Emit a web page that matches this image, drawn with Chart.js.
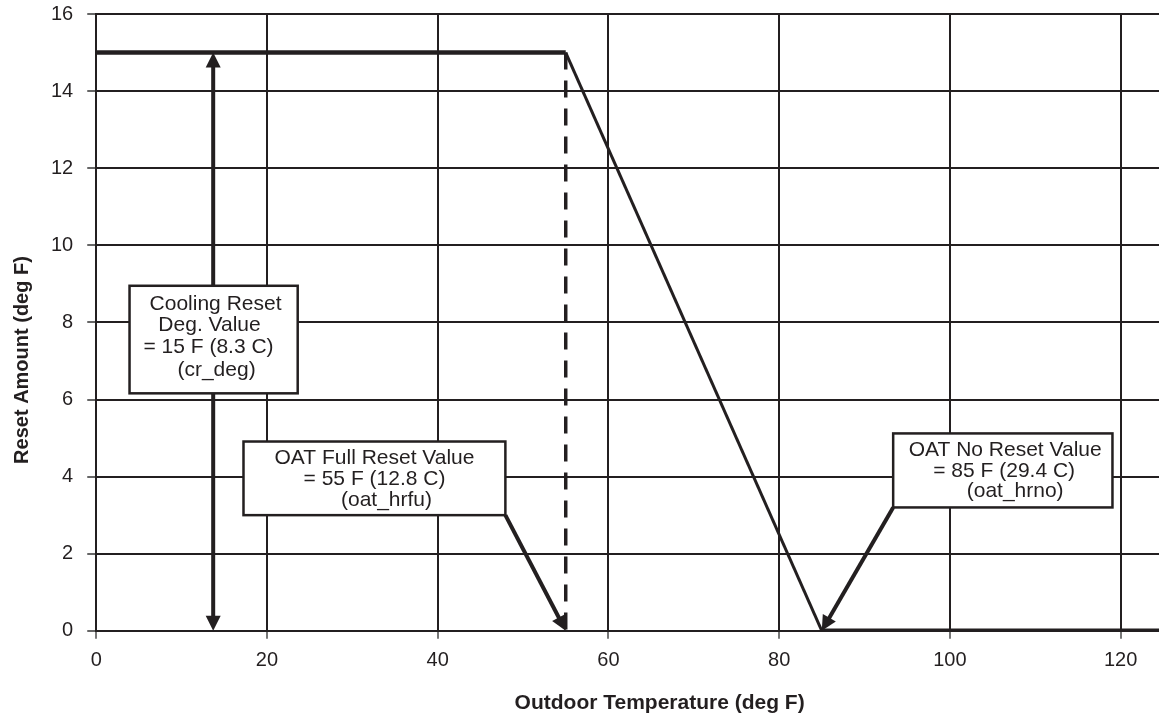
<!DOCTYPE html>
<html>
<head>
<meta charset="utf-8">
<title>Cooling Reset vs Outdoor Temperature</title>
<script src="https://cdn.jsdelivr.net/npm/chart.js@4"></script>
<style>
  html, body { margin: 0; padding: 0; background: #fff; overflow: hidden; }
  .reset-chart-wrapper { position: relative; width: 1223px; height: 716px; }
</style>
</head>
<body>
<div class="reset-chart-wrapper">
  <canvas id="resetChart"></canvas>
</div>
<script>
// reset schedule: full reset below oat_hrfu, none above oat_hrno
const crDeg = 15;
const oatFullReset = 55;
const oatNoReset = 85;
const resetTemps = [0, oatFullReset, oatNoReset, 132];
const resetAmounts = [crDeg, crDeg, 0, 0];
const fullResetMarkerX = [oatFullReset, oatFullReset];
const fullResetMarkerY = [crDeg, 0];
const crArrowX = 13.7;

const xTicks = [0, 20, 40, 60, 80, 100, 120];
const yTicks = [0, 2, 4, 6, 8, 10, 12, 14, 16];

const INK = "#231f20";

// callout boxes (data units for the box, px offsets for each text line)
const callouts = [
  {
    box: [3.9, 8.95, 23.6, 6.16],
    lines: [
      ["Cooling Reset", 86, 18],
      ["Deg. Value", 80, 39],
      ["= 15 F (8.3 C)", 79, 61],
      ["(cr_deg)", 87, 84],
    ],
  },
  {
    box: [17.25, 4.91, 47.93, 3.0],
    lines: [
      ["OAT Full Reset Value", 131, 17],
      ["= 55 F (12.8 C)", 131, 38],
      ["(oat_hrfu)", 143, 59],
    ],
  },
  {
    box: [93.36, 5.12, 119.05, 3.2],
    lines: [
      ["OAT No Reset Value", 112, 17],
      ["= 85 F (29.4 C)", 111, 38],
      ["(oat_hrno)", 122, 58],
    ],
  },
];

function arrowHead(ctx, fromX, fromY, tipX, tipY, len, halfW) {
  const ang = Math.atan2(tipY - fromY, tipX - fromX);
  ctx.beginPath();
  ctx.moveTo(tipX, tipY);
  ctx.lineTo(tipX - len * Math.cos(ang) + halfW * Math.sin(ang),
             tipY - len * Math.sin(ang) - halfW * Math.cos(ang));
  ctx.lineTo(tipX - len * Math.cos(ang) - halfW * Math.sin(ang),
             tipY - len * Math.sin(ang) + halfW * Math.cos(ang));
  ctx.closePath();
  ctx.fill();
}

function arrowLine(ctx, x1, y1, x2, y2, headAtStart) {
  const len = 15, halfW = 7.5;
  const ang = Math.atan2(y2 - y1, x2 - x1);
  let sx = x1, sy = y1;
  if (headAtStart) {
    sx = x1 + (len - 2) * Math.cos(ang);
    sy = y1 + (len - 2) * Math.sin(ang);
  }
  const ex = x2 - (len - 2) * Math.cos(ang);
  const ey = y2 - (len - 2) * Math.sin(ang);
  ctx.beginPath();
  ctx.moveTo(sx, sy);
  ctx.lineTo(ex, ey);
  ctx.stroke();
  arrowHead(ctx, x1, y1, x2, y2, len, halfW);
  if (headAtStart) arrowHead(ctx, x2, y2, x1, y1, len, halfW);
}

const calloutPlugin = {
  id: "callouts",
  afterDatasetsDraw(chart) {
    const { ctx, scales: { x, y } } = chart;
    ctx.save();
    ctx.strokeStyle = INK;
    ctx.fillStyle = INK;
    ctx.lineWidth = 4;

    // cr_deg span arrow
    arrowLine(ctx, x.getPixelForValue(crArrowX), y.getPixelForValue(crDeg),
      x.getPixelForValue(crArrowX), y.getPixelForValue(0), true);

    // pointers from the boxes down to the reset temperatures
    const b2 = callouts[1].box, b3 = callouts[2].box;
    arrowLine(ctx, x.getPixelForValue(b2[2]), y.getPixelForValue(b2[3]),
      x.getPixelForValue(oatFullReset), y.getPixelForValue(0), false);
    arrowLine(ctx, x.getPixelForValue(b3[0]), y.getPixelForValue(b3[3]),
      x.getPixelForValue(oatNoReset), y.getPixelForValue(0), false);

    // boxes
    ctx.font = '21px "Liberation Sans", Arial, sans-serif';
    ctx.textAlign = "center";
    ctx.textBaseline = "middle";
    callouts.forEach((c) => {
      const left = x.getPixelForValue(c.box[0]);
      const top = y.getPixelForValue(c.box[1]);
      const right = x.getPixelForValue(c.box[2]);
      const bottom = y.getPixelForValue(c.box[3]);
      ctx.fillStyle = "#fff";
      ctx.fillRect(left, top, right - left, bottom - top);
      ctx.lineWidth = 2.5;
      ctx.strokeStyle = INK;
      ctx.strokeRect(left, top, right - left, bottom - top);
      ctx.fillStyle = INK;
      c.lines.forEach(([text, dx, dy]) => ctx.fillText(text, left + dx, top + dy));
    });

    ctx.restore();
  },
  afterDraw(chart) {
    // y axis title, drawn by hand so it can sit lower than the scale centre
    const { ctx } = chart;
    ctx.save();
    ctx.translate(22, 360);
    ctx.rotate(-Math.PI / 2);
    ctx.font = 'bold 20px "Liberation Sans", Arial, sans-serif';
    ctx.fillStyle = INK;
    ctx.textAlign = "center";
    ctx.textBaseline = "middle";
    ctx.fillText("Reset Amount (deg F)", 0, 0);
    ctx.restore();
  },
};

Chart.defaults.font.family = '"Liberation Sans", Arial, sans-serif';
Chart.defaults.color = INK;

new Chart(document.getElementById("resetChart").getContext("2d"), {
  type: "line",
  data: {
    datasets: [
      {
        label: "Reset",
        data: resetTemps.map((t, i) => ({ x: t, y: resetAmounts[i] })),
        borderColor: INK,
        borderWidth: 4.5,
        pointRadius: 0,
        tension: 0,
        segment: {
          borderWidth: (ctx) => (ctx.p0.parsed.y !== ctx.p1.parsed.y ? 3 : 4.5),
        },
      },
      {
        label: "Full reset",
        data: fullResetMarkerX.map((t, i) => ({ x: t, y: fullResetMarkerY[i] })),
        borderColor: INK,
        borderWidth: 3.5,
        borderDash: [17, 11],
        pointRadius: 0,
      },
    ],
  },
  options: {
    responsive: true,
    maintainAspectRatio: false,
    animation: false,
    layout: { padding: { left: 37, top: 14, right: 0, bottom: 0 } },
    plugins: {
      legend: { display: false },
      tooltip: { enabled: false },
    },
    scales: {
      x: {
        type: "linear",
        min: 0,
        max: 132,
        afterBuildTicks: (scale) => { scale.ticks = xTicks.map((v) => ({ value: v })); },
        grid: { color: INK, lineWidth: 2, tickLength: 8, tickColor: "#777" },
        border: { color: INK, width: 2 },
        ticks: { font: { size: 20 }, padding: 10, includeBounds: false },
        title: {
          display: true,
          text: "Outdoor Temperature (deg F)",
          font: { size: 21, weight: "bold" },
          padding: { top: 8, bottom: 0 },
        },
      },
      y: {
        min: 0,
        max: 16,
        afterBuildTicks: (scale) => { scale.ticks = yTicks.map((v) => ({ value: v })); },
        afterFit: (scale) => { scale.paddingTop = 0; },
        grid: { color: INK, lineWidth: 2, tickLength: 9, tickColor: "#666" },
        border: { color: INK, width: 2 },
        ticks: { font: { size: 20 }, padding: 14 },
      },
    },
  },
  plugins: [calloutPlugin],
});
</script>
</body>
</html>
